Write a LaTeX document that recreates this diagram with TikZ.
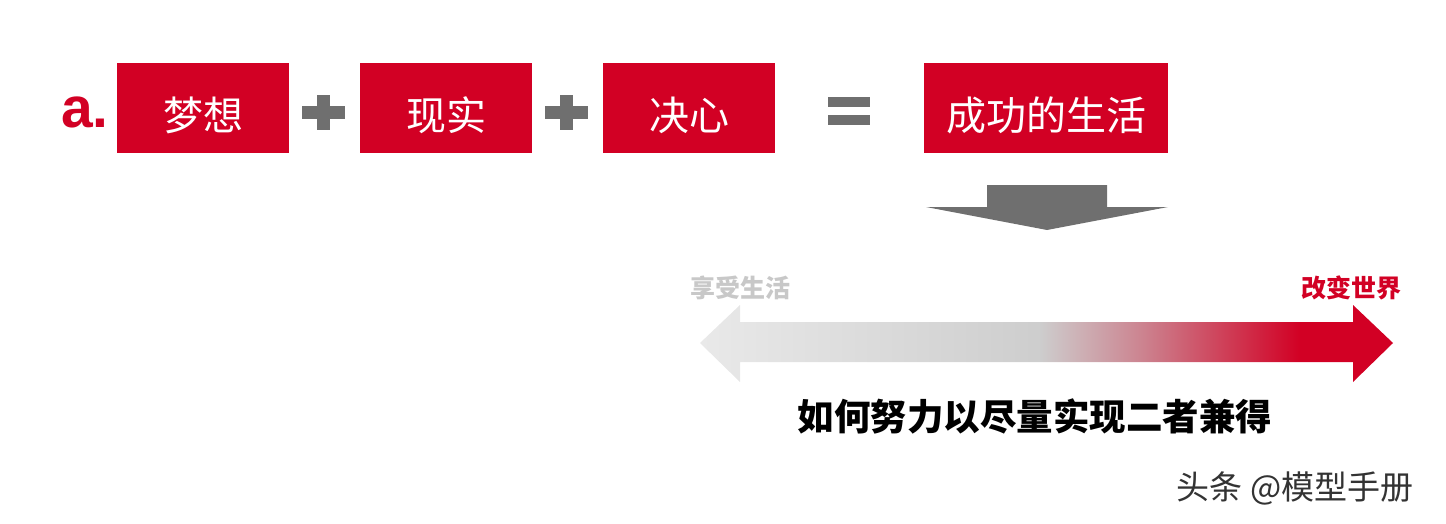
\documentclass[tikz,border=0pt]{standalone}
\usepackage{fontspec}
\newfontfamily\cjk{Noto Sans CJK SC}
\setsansfont{Liberation Sans}
\definecolor{myred}{HTML}{D20024}
\definecolor{mygray}{HTML}{6F6F6F}
\definecolor{lgray}{HTML}{C8C8C8}
\pgfdeclarehorizontalshading{arrowshade}{100bp}{color(0bp)=(white!90!lgray); color(25bp)=(white!60!lgray); color(49.5bp)=(lgray!90!white); color(57bp)=(myred!35!lgray); color(68.3bp)=(myred); color(75bp)=(myred); color(100bp)=(myred)}
\tikzset{
  redbox/.style={fill=myred, inner sep=0pt, minimum height=90pt},
  boxtext/.style={text=white, font=\cjk\fontsize{40}{40}\selectfont},
  op/.style={fill=mygray, draw=none},
}
\begin{document}
\begin{tikzpicture}[x=1pt,y=-1pt]
\useasboundingbox (0,0) rectangle (1446,524);
\node[text=myred, font=\sffamily\bfseries\fontsize{57}{57}\selectfont, anchor=center] (a) at (85,112) {a.};
\node[redbox, minimum width=172pt] (b1) at (203,108) {};
\node[redbox, minimum width=172pt] (b2) at (446,108) {};
\node[redbox, minimum width=172pt] (b3) at (689,108) {};
\node[redbox, minimum width=244pt] (b4) at (1046,108) {};
\node[boxtext] (t1) at (203,115) {梦想};
\node[boxtext] (t2) at (446,115) {现实};
\node[boxtext] (t3) at (689,115) {决心};
\node[boxtext] (t4) at (1046,115) {成功的生活};
% plus signs
\fill[op] (302,106) rectangle (345,119);
\fill[op] (317,95) rectangle (330,130);
\fill[op] (545,106) rectangle (588,119);
\fill[op] (560,95) rectangle (573,130);
% equals
\fill[op] (828,97) rectangle (870,107);
\fill[op] (828,115) rectangle (870,125);
% down arrow
\fill[op] (987,185) -- (1107,185) -- (1107,207) -- (1168,207) -- (1047,230) -- (926,207) -- (987,207) -- cycle;
% double arrow
\shade[shading=arrowshade] (700,343) -- (740,305) -- (740,322) -- (1353,322) -- (1353,305) -- (1393,343) -- (1353,382) -- (1353,362) -- (740,362) -- (740,382) -- cycle;
\node[text=lgray, font=\cjk\bfseries\fontsize{25}{25}\selectfont] (l1) at (740,288) {享受生活};
\node[text=myred, font=\cjk\bfseries\fontsize{25}{25}\selectfont] (l2) at (1351,288) {改变世界};
\node[text=black, font=\cjk\bfseries\fontsize{36.5}{36.5}\selectfont] (q) at (1035,416) {如何努力以尽量实现二者兼得};
\node[text=black!80, font=\cjk\fontsize{33}{33}\selectfont] (w) at (1295,488) {头条 @模型手册};
\end{tikzpicture}
\end{document}
